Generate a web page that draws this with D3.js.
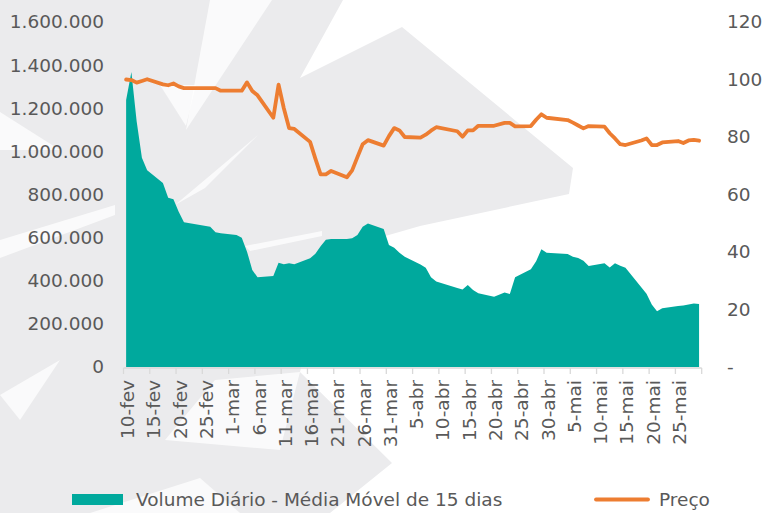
<!DOCTYPE html>
<html><head><meta charset="utf-8">
<script src="https://cdn.jsdelivr.net/npm/d3@7"></script>
<style>html,body{margin:0;padding:0;background:#fff}svg{display:block}</style>
</head><body><svg id="c" width="765" height="513"></svg>
<script>
const dates = ["2020-02-10","2020-02-11","2020-02-12","2020-02-13","2020-02-14","2020-02-17","2020-02-18","2020-02-19","2020-02-20","2020-02-21","2020-02-26","2020-02-27","2020-02-28",
"2020-03-02","2020-03-03","2020-03-04","2020-03-05","2020-03-06","2020-03-09","2020-03-10","2020-03-11","2020-03-12","2020-03-13","2020-03-16","2020-03-17","2020-03-18","2020-03-19","2020-03-20","2020-03-23","2020-03-24","2020-03-25","2020-03-26","2020-03-27","2020-03-30","2020-03-31",
"2020-04-01","2020-04-02","2020-04-03","2020-04-06","2020-04-07","2020-04-08","2020-04-09","2020-04-13","2020-04-14","2020-04-15","2020-04-16","2020-04-17","2020-04-20","2020-04-22","2020-04-23","2020-04-24","2020-04-27","2020-04-28","2020-04-29","2020-04-30",
"2020-05-04","2020-05-05","2020-05-06","2020-05-07","2020-05-08","2020-05-11","2020-05-12","2020-05-13","2020-05-14","2020-05-15","2020-05-18","2020-05-19","2020-05-20","2020-05-21","2020-05-22","2020-05-25","2020-05-26","2020-05-27","2020-05-28","2020-05-29"];
const volume = [1238000,1368000,1140000,970000,913000,853000,785000,778000,720000,671000,651000,625000,620000,
612000,600000,535000,450000,416000,422000,484000,476000,481000,476000,504000,525000,560000,590000,594000,594000,597000,612000,650000,665000,640000,566000,
553000,530000,511000,475000,460000,416000,396000,366000,360000,380000,357000,342000,326000,346000,338000,416000,453000,490000,546000,530000,
524000,511000,505000,493000,468000,481000,462000,481000,470000,460000,370000,340000,290000,258000,272000,283000,285000,290000,294000,292000];
const price = [100.0,99.8,98.9,99.5,100.1,98.3,98.0,98.6,97.6,97.0,97.0,97.0,96.1,
96.1,96.1,99.0,96.0,94.5,86.7,98.2,90.0,83.1,82.8,78.3,72.5,67.0,67.0,68.2,66.0,68.4,73.0,77.5,78.9,77.0,80.3,
83.1,82.3,80.0,79.8,80.8,82.2,83.4,82.0,80.1,82.3,82.3,83.9,83.9,84.9,84.9,83.7,83.8,86.0,87.9,86.7,
85.9,85.0,84.0,83.0,83.8,83.6,81.3,79.5,77.5,77.2,78.8,79.5,77.2,77.2,78.1,78.6,77.9,78.8,79.0,78.7];
const monthNames = ["jan","fev","mar","abr","mai","jun","jul","ago","set","out","nov","dez"];
const leftTicks = [0,200000,400000,600000,800000,1000000,1200000,1400000,1600000];
const rightTicks = [0,20,40,60,80,100,120];
const seriesNames = ["Volume Diário - Média Móvel de 15 dias","Preço"];
const axisStart = "2020-02-10", axisEnd = "2020-05-30", tickStepDays = 5;

const svg = d3.select("#c");
const FONT = "'DejaVu Sans', Verdana, sans-serif";
const TEXT = "#595959";
const TEAL = "#00A99D", ORANGE = "#ED7D31";

// decorative background watermark (logo shapes)
const wm = svg.append("g");
const grayPolys = [
  [[0,0],[343,0],[300,78],[402,27],[573,168],[569,194],[420,226],[330,252],[300,372],[392,463],[330,513],[0,513]]
];
const lightPolys = [
  [[210,0],[272,0],[186,130]],
  [[160,85],[196,85],[186,126]],
  [[175,205],[258,135],[205,188]],
  [[245,246],[322,231],[322,236],[250,251]],
  [[0,112],[60,150],[0,150]],
  [[0,240],[115,205],[115,215],[0,258]],
  [[0,395],[60,360],[20,420]],
  [[215,380],[300,372],[280,450],[165,440]],
  [[90,513],[200,478],[240,513]]
];
wm.selectAll(".g").data(grayPolys).join("path").attr("d",p=>"M"+p.join("L")+"Z").attr("fill","#ebebed");
wm.selectAll(".w").data(lightPolys).join("path").attr("d",p=>"M"+p.join("L")+"Z").attr("fill","#ffffff").attr("opacity",0.75);

const parse = d3.timeParse("%Y-%m-%d");
const x = d3.scaleTime().domain([parse(axisStart), parse(axisEnd)]).range([123.5, 701.7]);
const yL = d3.scaleLinear().domain([0,1600000]).range([367,22]);
const yR = d3.scaleLinear().domain([0,120]).range([367,22]);
const center = d => d3.timeHour.offset(d, 12);

const data = dates.map((s,i)=>({d:parse(s), v:volume[i], p:price[i]}));

const area = d3.area().x(d=>x(center(d.d))).y0(yL(0)).y1(d=>yL(d.v));
svg.append("path").datum(data).attr("d",area).attr("fill",TEAL);

const line = d3.line().x(d=>x(center(d.d))).y(d=>yR(d.p)).curve(d3.curveLinear);
svg.append("path").datum(data).attr("d",line).attr("fill","none").attr("stroke",ORANGE)
  .attr("stroke-width",3.8).attr("stroke-linejoin","round").attr("stroke-linecap","round");

// x axis
const tickDates = [];
for (let t = parse(axisStart); t < parse(axisEnd); t = d3.timeDay.offset(t, tickStepDays)) tickDates.push(t);
const xg = svg.append("g");
xg.append("line").attr("x1",x.range()[0]).attr("x2",x.range()[1]).attr("y1",368).attr("y2",368)
  .attr("stroke","#d9d9d9").attr("stroke-width",1.3);
xg.selectAll(".tk").data(tickDates.concat([parse(axisEnd)])).join("line")
  .attr("x1",d=>x(d)).attr("x2",d=>x(d)).attr("y1",368).attr("y2",374).attr("stroke","#d9d9d9").attr("stroke-width",1.3);
xg.selectAll(".lb").data(tickDates).join("text")
  .attr("transform",d=>`translate(${x(center(d))+1.5},380) rotate(-90)`)
  .attr("text-anchor","end").attr("dy","0.35em")
  .attr("font-family",FONT).attr("font-size","18.5px").attr("fill",TEXT)
  .text(d=>`${d.getDate()}-${monthNames[d.getMonth()]}`);

// left axis
const loc = d3.formatLocale({decimal:",", thousands:".", grouping:[3], currency:["R$",""]});
const fmt = loc.format(",d");
svg.append("g").selectAll("text").data(leftTicks).join("text")
  .attr("x",104).attr("y",d=>yL(d)).attr("dy","0.35em").attr("text-anchor","end")
  .attr("font-family",FONT).attr("font-size","18.5px").attr("fill",TEXT).text(d=>fmt(d));

// right axis
svg.append("g").selectAll("text").data(rightTicks).join("text")
  .attr("x",727).attr("y",d=>yR(d)).attr("dy","0.35em").attr("text-anchor","start")
  .attr("font-family",FONT).attr("font-size","18.5px").attr("fill",TEXT).text(d=>d===0?"-":d);

// legend
const lg = svg.append("g");
lg.append("rect").attr("x",72).attr("y",494).attr("width",51).attr("height",11).attr("fill",TEAL);
lg.append("text").attr("x",136).attr("y",500).attr("dy","0.35em").attr("font-family",FONT)
  .attr("font-size","18.5px").attr("fill",TEXT).text(seriesNames[0]);
lg.append("line").attr("x1",596).attr("x2",648).attr("y1",499.5).attr("y2",499.5)
  .attr("stroke",ORANGE).attr("stroke-width",3.8).attr("stroke-linecap","round");
lg.append("text").attr("x",659).attr("y",500).attr("dy","0.35em").attr("font-family",FONT)
  .attr("font-size","18.5px").attr("fill",TEXT).text(seriesNames[1]);
</script></body></html>
